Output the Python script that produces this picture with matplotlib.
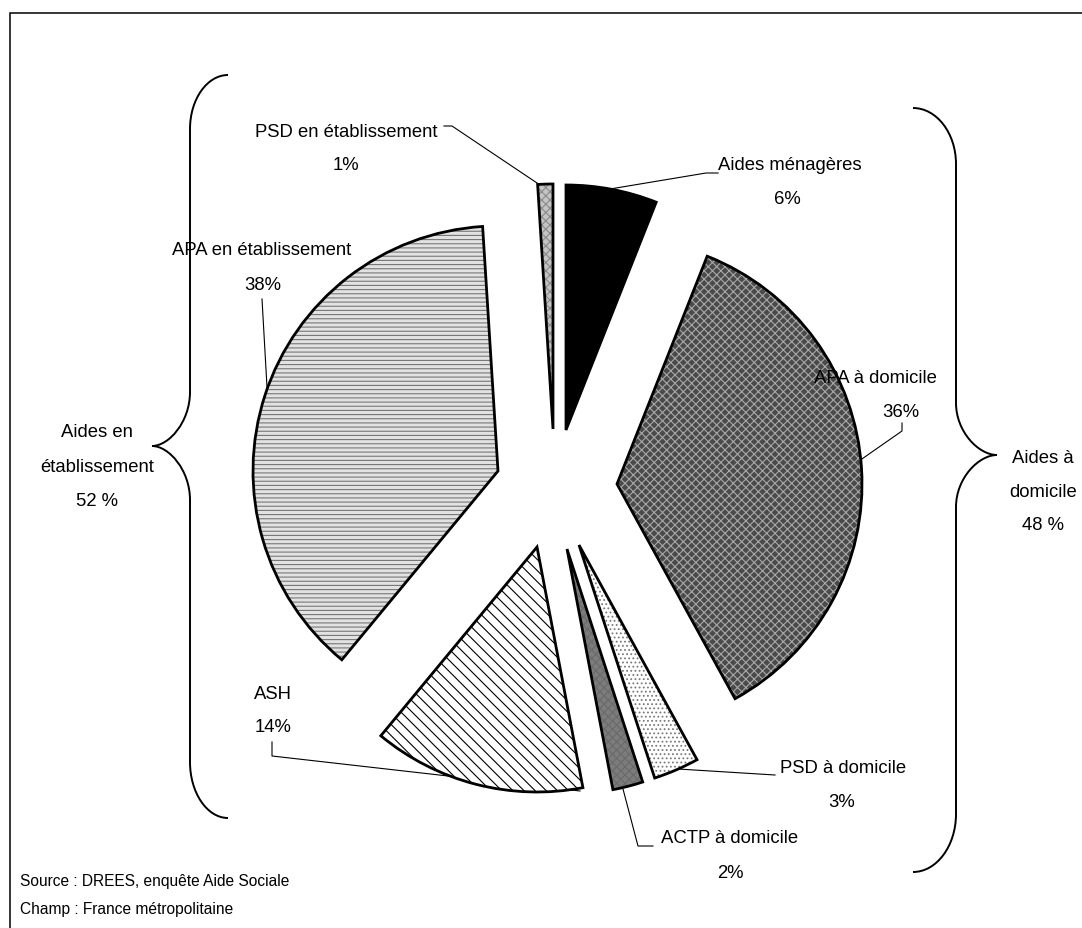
import matplotlib
matplotlib.use("Agg")
import matplotlib.pyplot as plt
from matplotlib import font_manager as fm
from matplotlib.path import Path
from matplotlib.patches import PathPatch, Rectangle

# ---------------- data ----------------
categories = ["Aides ménagères", "APA à domicile", "PSD à domicile",
              "ACTP à domicile", "ASH", "APA en établissement",
              "PSD en établissement"]
values = [6, 36, 3, 2, 14, 38, 1]
pct_labels = ["6%", "36%", "3%", "2%", "14%", "38%", "1%"]
group_names = ["Aides en\nétablissement", "Aides à\ndomicile"]
group_pcts = ["52 %", "48 %"]
source_lines = ["Source : DREES, enquête Aide Sociale",
                "Champ : France métropolitaine"]

# ---------------- styles ----------------
# per-slice displacement of the wedge apex from the pie centre (pixels, y down)
shift = [(9, -31), (60, 23), (22, 84), (10, 88), (-20, 86), (-59, 10), (-4, -32)]
faces = ["#000000", "#4a4a4a", "#ffffff", "#7c7c7c", "#ffffff", "#e2e2e2", "#c4c4c4"]
hatches = [None, "xxxx", "....", "xxxx", "\\\\\\", "----", "xxxx"]
hatch_cols = ["#000000", "#a8a8a8", "#7a7a7a", "#6a6a6a", "#000000", "#777777", "#8a8a8a"]

W, H = 1082, 929

names = {f.name for f in fm.fontManager.ttflist}
if "Liberation Sans Narrow" in names:
    FONT = "Liberation Sans Narrow"
    FS, FS_SRC = 16.5, 13.5
else:
    FONT = "Liberation Sans"
    FS, FS_SRC = 13.3, 11.2
plt.rcParams["font.family"] = [FONT, "DejaVu Sans"]
plt.rcParams["hatch.linewidth"] = 0.8

fig = plt.figure(figsize=(W / 100, H / 100), dpi=100)
ax = fig.add_axes([0, 0, 1, 1])


def Y(py):
    return H - py


CX, CY, R = 557, 462, 245

# hatch / fill layer
w1, _ = ax.pie(values, startangle=90, counterclock=False,
               center=(CX, Y(CY)), radius=R,
               wedgeprops=dict(linewidth=0))
# outline layer
w2, _ = ax.pie(values, startangle=90, counterclock=False,
               center=(CX, Y(CY)), radius=R,
               wedgeprops=dict(linewidth=2.0, edgecolor="black", facecolor="none"))
for wa, wb, (dx, dy), fc, hc, hcol in zip(w1, w2, shift, faces, hatches, hatch_cols):
    wa.set_facecolor(fc)
    wa.set_edgecolor(hcol)
    if hc:
        wa.set_hatch(hc)
    for w in (wa, wb):
        cx, cy = w.center
        w.set_center((cx + dx, cy - dy))

ax.set_xlim(0, W)
ax.set_ylim(0, H)
ax.set_aspect("auto")
ax.axis("off")

# ---------------- labels ----------------
# (x line1, y line1 cap-centre, x line2, y line2, leader polyline in px)
layout = {
    "Aides ménagères": (790, 163, 787, 197, [(610, 190), (706, 174), (718, 174)]),
    "APA à domicile": (875, 376, 901, 410, [(902, 424), (902, 432), (859, 462)]),
    "PSD à domicile": (843, 766, 842, 800, [(678, 770), (775, 776)]),
    "ACTP à domicile": (730, 836, 730, 871, [(623, 790), (638, 847), (653, 847)]),
    "ASH": (273, 692, 273, 725, [(272, 743), (272, 757), (580, 792)]),
    "APA en établissement": (262, 248, 263, 283, [(262, 300), (267, 388)]),
    "PSD en établissement": (346, 130, 346, 163, [(444, 127), (452, 127), (540, 186)]),
}
off = 0.36 * FS * 100 / 72
txt = dict(fontsize=FS, ha="center", va="baseline", color="black")
for cat, pct in zip(categories, pct_labels):
    x1, y1, x2, y2, lead = layout[cat]
    ax.text(x1, Y(y1 + off), cat, **txt)
    ax.text(x2, Y(y2 + off), pct, **txt)
    ax.plot([p[0] for p in lead], [Y(p[1]) for p in lead], color="black", lw=0.8,
            zorder=0.5)

# group labels
gpos = [(97, [430, 465, 499]), (1043, [456, 490, 523])]
for (gx, ys), gname, gp in zip(gpos, group_names, group_pcts):
    l1, l2 = gname.split("\n")
    for s, yy in zip([l1, l2, gp], ys):
        ax.text(gx, Y(yy + off), s, **txt)

# source
offs = 0.36 * FS_SRC * 100 / 72
for s, yy in zip(source_lines, [880, 908]):
    ax.text(20, Y(yy + offs), s, fontsize=FS_SRC, ha="left", va="baseline")


# ---------------- braces ----------------
def brace(x_end, x_mid, x_tip, y_top, y_tip, y_bot, c1, c2, c3):
    k = 0.55
    verts = [
        (x_end, y_top),
        (x_mid + (x_end - x_mid) * (1 - k), y_top), (x_mid, y_top + c1 * (1 - k)), (x_mid, y_top + c1),
        (x_mid, y_tip - c2),
        (x_mid, y_tip - c2 * (1 - k)), (x_tip + (x_mid - x_tip) * (1 - k), y_tip), (x_tip, y_tip),
        (x_tip + (x_mid - x_tip) * (1 - k), y_tip), (x_mid, y_tip + c2 * (1 - k)), (x_mid, y_tip + c2),
        (x_mid, y_bot - c3),
        (x_mid, y_bot - c3 * (1 - k)), (x_mid + (x_end - x_mid) * (1 - k), y_bot), (x_end, y_bot),
    ]
    codes = [Path.MOVETO, Path.CURVE4, Path.CURVE4, Path.CURVE4, Path.LINETO,
             Path.CURVE4, Path.CURVE4, Path.CURVE4, Path.CURVE4, Path.CURVE4, Path.CURVE4,
             Path.LINETO, Path.CURVE4, Path.CURVE4, Path.CURVE4]
    verts = [(vx, Y(vy)) for vx, vy in verts]
    ax.add_patch(PathPatch(Path(verts, codes), facecolor="none", edgecolor="black", lw=1.4))


brace(228, 190, 152, 76, 447, 819, 54, 54, 56)
brace(913, 956, 997, 109, 456, 873, 56, 52, 58)

# frame
ax.add_patch(Rectangle((10, -20), W + 20, Y(14) + 20, facecolor="none",
                       edgecolor="black", lw=1.1))

fig.savefig("out.png", dpi=100)
